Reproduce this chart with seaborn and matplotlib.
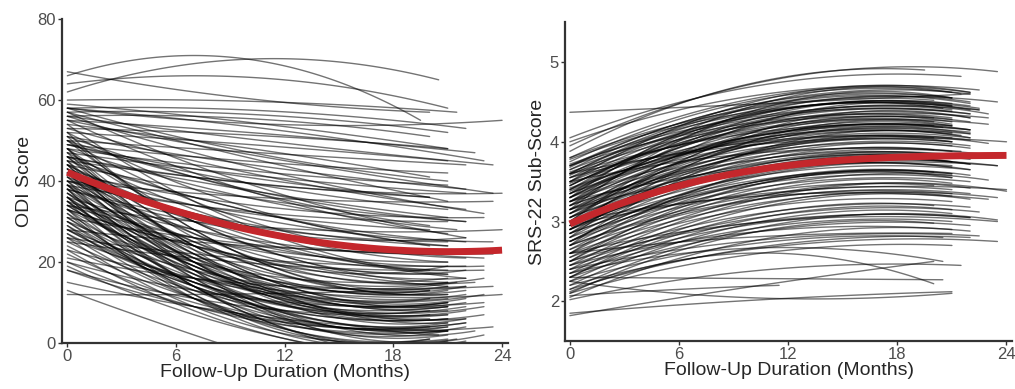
import matplotlib
matplotlib.use('Agg')
import matplotlib.pyplot as plt
import pandas as pd
import seaborn as sns

# ODI trajectories: score at month 0, at month 7, at last visit, last visit month
odi_start = [66, 62, 64, 67, 60, 58, 58, 57, 56, 59,
             55, 58, 53, 52, 56, 50, 54, 49, 51, 55,
             48, 47, 57, 45, 53, 49, 56, 46, 44, 51,
             48, 42, 55, 40, 46, 52, 43, 38, 50, 41,
             47, 36, 44, 39, 54, 35, 42, 48, 37, 33,
             38, 34, 45, 40, 30, 38, 51, 34, 43, 28,
             36, 46, 32, 41, 26, 39, 30, 44, 35, 28,
             48, 33, 25, 38, 42, 30, 36, 27, 40, 32,
             24, 45, 22, 35, 29, 20, 38, 26, 18, 33,
             41, 37, 44, 29, 39, 47, 31, 43, 35, 52,
             13, 15, 12, 21, 20, 18, 23, 25, 28, 34,
             40, 46, 27, 23, 19, 36, 44, 33, 42, 58,
             39, 26, 31, 49, 57, 40, 45, 50, 37, 42,
             34, 48, 31, 39, 46, 28, 36, 43, 33, 50]
odi_m7 = [71, 69, 66, 62, 60, 55, 58, 57, 56, 56,
          53, 55, 52, 50, 52, 48, 50, 46, 46, 49,
          44, 43, 49, 41, 45, 42, 47, 40, 38, 41,
          39, 36, 42, 34, 36, 38, 34, 31, 35, 31,
          33, 28, 30, 28, 35, 26, 27, 30, 24, 24,
          30, 26, 24, 22, 20, 21, 28, 19, 22, 18,
          19, 24, 17, 20, 16, 19, 15, 20, 17, 14,
          23, 15, 13, 16, 18, 13, 14, 11, 16, 12,
          11, 18, 10, 12, 11, 9, 14, 9, 9, 11,
          25, 19, 22, 15, 17, 24, 14, 20, 18, 28,
          2, 9, 12, 16, 13, 11, 16, 21, 25, 30,
          37, 41, 14, 8, 7, 14, 31, 24, 32, 50,
          34, 22, 26, 43, 44, 32, 36, 41, 20, 21,
          18, 26, 16, 23, 27, 15, 21, 25, 20, 30]
odi_end = [55, 65, 58, 57, 57, 55, 53, 52, 51, 48,
           47, 45, 48, 45, 44, 44, 41, 42, 38, 37,
           39, 37, 35, 36, 33, 33, 32, 31, 30, 29,
           28, 31, 27, 28, 25, 24, 25, 25, 21, 22,
           20, 22, 18, 19, 17, 18, 16, 15, 15, 17,
           26, 20, 13, 13, 16, 12, 12, 12, 10, 13,
           10, 9, 10, 8, 11, 7, 8, 6, 6, 7,
           5, 5, 6, 4, 3, 4, 3, 4, 2, 2,
           4, 1, 5, 1, 1, 3, 0.5, 1, 4, 0.5,
           19, 11, 9, 9, 5, 11, 3, 7, 9, 14,
           -8, 3, 14, 14, 10, 7, 12, 18, 22, 28,
           35, 37, 2, -3, -2, -3, 16, 14, 21, 40,
           30, 19, 22, 36, 26, 24, 24, 30, 8, 6,
           10, 14, 6, 15, 16, 9, 13, 12, 15, 18]
odi_last = [19.5, 20.5, 21, 20, 21.5, 24, 22, 21, 20, 21,
            22.5, 23, 21, 21, 23.5, 22, 20, 21, 22, 23.5,
            21, 22, 21, 20, 22, 21, 23, 21, 22, 20,
            21.5, 23, 21, 20, 22, 21, 23.5, 21, 22, 20,
            21, 22, 21, 23, 21, 20, 22, 21, 22.5, 21,
            22, 21, 21, 20, 21, 22, 21, 23, 21, 20,
            22, 21, 21, 22, 21, 21, 20, 22, 21, 23,
            21, 22, 21, 21, 22.5, 20, 21, 22, 21, 23,
            21, 21.5, 22, 20, 21, 21, 22, 20, 23.5, 21,
            21, 20, 21, 22, 21, 22, 21, 20, 23, 21,
            14, 21, 23.5, 22, 23, 21, 24, 23, 23.5, 24,
            23.5, 24, 20.5, 18, 16, 18, 22, 21, 23, 21,
            21, 22, 21, 20, 22, 21, 20, 22, 21, 22,
            21, 22, 20, 21, 23, 21, 22, 21, 21.5, 22]

# SRS-22 trajectories: same layout
srs_start = [4.37, 3.95, 4.05, 3.88, 4.00, 3.75, 3.70, 3.65, 3.80, 3.60, 3.55, 3.50, 3.72, 3.45, 3.40,
             3.62, 3.35, 3.30, 3.55, 3.25, 3.48, 3.20, 3.15, 3.42, 3.10, 3.35, 3.05, 3.30, 3.00, 3.25,
             2.95, 3.20, 2.90, 3.15, 2.85, 3.10, 2.80, 3.05, 2.75, 3.00, 2.70, 2.95, 2.65, 2.90, 2.60,
             2.85, 2.55, 2.80, 2.50, 2.75, 2.45, 2.70, 2.40, 2.65, 2.35, 2.60, 2.30, 2.55, 2.30, 2.50,
             2.25, 2.45, 2.20, 2.40, 2.15, 2.35, 2.10, 2.30, 2.60, 2.40, 2.05, 2.25, 2.20, 2.10, 1.82,
             1.85, 2.25, 2.07, 2.30, 2.12, 2.02, 2.15, 2.35, 3.60, 3.35, 3.50, 3.40, 3.25, 3.15, 3.65,
             3.45, 3.30, 3.10, 3.00, 2.90, 3.55, 3.70, 3.20, 2.75, 3.05, 2.85, 3.38, 3.78, 2.95, 3.15,
             3.60, 3.50, 2.70, 3.00, 2.50, 3.25, 3.80, 3.68, 3.58, 2.60, 2.45,
             3.40, 3.20, 3.00, 3.30, 2.90, 3.10, 3.50, 2.80, 3.25, 3.05, 3.45, 2.70,
             3.35, 2.95, 3.15, 3.60, 2.85, 3.70, 3.00, 3.30, 2.60, 2.75, 2.50, 2.90]
srs_m7 = [4.44, 4.55, 4.55, 4.55, 4.45, 4.35, 4.30, 4.27, 4.28, 4.22, 4.17, 4.15, 4.18, 4.10, 4.05,
          4.08, 4.00, 3.95, 4.01, 3.90, 3.94, 3.87, 3.81, 3.88, 3.77, 3.83, 3.71, 3.78, 3.67, 3.73,
          3.61, 3.68, 3.57, 3.63, 3.51, 3.58, 3.47, 3.53, 3.41, 3.48, 3.37, 3.43, 3.31, 3.38, 3.27,
          3.33, 3.21, 3.28, 3.17, 3.23, 3.11, 3.18, 3.07, 3.13, 3.01, 3.08, 2.97, 3.03, 2.91, 2.96,
          2.86, 2.91, 2.81, 2.84, 2.74, 2.79, 2.70, 2.74, 2.76, 2.68, 2.60, 2.62, 2.55, 2.48, 2.08,
          1.97, 2.08, 2.16, 2.29, 2.55, 2.30, 2.55, 2.62, 4.00, 3.88, 4.02, 3.90, 3.80, 3.72, 4.15,
          4.08, 3.90, 3.68, 3.55, 3.50, 3.90, 4.12, 3.65, 3.33, 3.58, 3.35, 3.92, 4.25, 3.25, 3.52,
          3.88, 3.78, 3.15, 3.25, 2.88, 3.58, 4.38, 4.30, 4.18, 2.90, 2.78,
          4.15, 4.05, 3.95, 4.20, 3.85, 3.90, 4.28, 3.75, 4.02, 3.80, 4.05, 3.62,
          4.12, 3.75, 4.12, 4.25, 3.65, 4.22, 3.85, 4.00, 3.40, 3.40, 3.25, 3.50]
srs_end = [4.60, 4.88, 4.82, 4.90, 4.65, 4.62, 4.60, 4.55, 4.50, 4.52, 4.45, 4.48, 4.40, 4.40, 4.35,
           4.30, 4.30, 4.25, 4.22, 4.20, 4.15, 4.18, 4.12, 4.10, 4.08, 4.05, 4.02, 4.00, 3.98, 3.95,
           3.92, 3.90, 3.88, 3.85, 3.82, 3.80, 3.78, 3.75, 3.72, 3.70, 3.68, 3.65, 3.62, 3.60, 3.58,
           3.55, 3.52, 3.50, 3.48, 3.45, 3.42, 3.40, 3.38, 3.35, 3.32, 3.30, 3.28, 3.25, 3.20, 3.18,
           3.15, 3.12, 3.10, 3.05, 3.02, 3.00, 2.98, 2.95, 2.85, 2.82, 2.90, 2.80, 2.75, 2.70, 2.50,
           2.12, 2.10, 2.20, 2.27, 2.22, 2.45, 2.80, 2.50, 4.20, 4.12, 4.25, 4.10, 4.05, 4.00, 4.35,
           4.38, 4.20, 3.95, 3.80, 3.78, 4.05, 4.30, 3.85, 3.60, 3.82, 3.58, 4.15, 4.45, 3.40, 3.70,
           4.00, 3.88, 3.35, 3.28, 3.05, 3.70, 4.62, 4.55, 4.42, 3.00, 2.88,
           4.50, 4.45, 4.40, 4.60, 4.30, 4.25, 4.62, 4.20, 4.35, 4.15, 4.28, 4.05,
           4.42, 4.10, 4.55, 4.48, 4.00, 4.40, 4.22, 4.30, 3.75, 3.65, 3.55, 3.72]
srs_last = [22, 23.5, 21.5, 19.5, 22.5, 21, 22, 21, 23.5, 20, 22, 21, 22.5, 21, 22,
            20, 21, 22, 23, 21, 22, 20.5, 21, 22, 21.5, 20, 22, 21, 23, 21,
            22, 20, 21, 22.5, 21, 22, 20, 21, 22, 23.5, 21, 22, 20, 21, 22,
            21, 23, 22, 21, 20, 22, 21, 24, 22, 21, 23.5, 22, 21, 20, 22,
            21, 22.5, 21, 22, 23.5, 21, 20, 22, 21, 22.5, 21, 20.5, 23.5, 21, 20,
            21, 21, 11.5, 20.5, 20, 21.5, 22, 20.5, 21, 22, 20, 21, 22, 21, 22,
            21, 20, 22, 21, 22, 21, 23, 20, 21, 22, 21, 22, 21, 24, 23.5,
            24, 21.5, 21, 23, 22, 21, 22, 21, 22.5, 23.5, 22,
            22, 21, 22, 21.5, 22, 21, 22, 21, 23, 22, 21, 22,
            20.5, 22, 21, 22, 21, 22.5, 21, 22, 21, 22, 21, 22]

# group mean curves
mean_months = [0, 3, 6, 9, 12, 15, 18, 21, 24]
odi_mean = [42, 37.3, 32.8, 28.8, 26.1, 24.2, 23.1, 22.8, 22.8]
srs_mean = [2.97, 3.24, 3.45, 3.60, 3.70, 3.77, 3.81, 3.82, 3.83]

sns.set_style('ticks')
plt.rcParams['font.family'] = ['Liberation Sans', 'DejaVu Sans']

fig = plt.figure(figsize=(10.15, 3.89), dpi=100)
ax1 = fig.add_axes([0.061, 0.118, 0.439, 0.833])
ax2 = fig.add_axes([0.557, 0.123, 0.440, 0.820])


def spaghetti(ax, start, m7, end, last):
    # one quadratic curve per patient
    for s, m, e, t in zip(start, m7, end, last):
        d = pd.DataFrame({'month': [0, 7, t], 'score': [s, m, e]})
        sns.regplot(data=d, x='month', y='score', order=2, ci=None, scatter=False,
                    truncate=True, ax=ax,
                    line_kws=dict(color='black', alpha=0.55, lw=1.0))


spaghetti(ax1, odi_start, odi_m7, odi_end, odi_last)
sns.regplot(x=mean_months, y=odi_mean, order=3, ci=None, scatter=False, ax=ax1,
            line_kws=dict(color='#C4272C', lw=5, solid_capstyle='butt'))

spaghetti(ax2, srs_start, srs_m7, srs_end, srs_last)
sns.regplot(x=mean_months, y=srs_mean, order=3, ci=None, scatter=False, ax=ax2,
            line_kws=dict(color='#C4272C', lw=5, solid_capstyle='butt'))

ax1.set_xlim(-0.3, 24.3)
ax1.set_ylim(0, 80)
ax1.set_yticks([0, 20, 40, 60, 80])
ax1.set_ylabel('ODI Score', fontsize=14, labelpad=3)

ax2.set_xlim(-0.25, 24.3)
ax2.set_ylim(1.5, 5.5)
ax2.set_yticks([2, 3, 4, 5])
ax2.set_ylabel('SRS-22 Sub-Score', fontsize=14, labelpad=3)

for ax in (ax1, ax2):
    ax.set_xticks([0, 6, 12, 18, 24])
    ax.set_xlabel('Follow-Up Duration (Months)', fontsize=14, labelpad=0)
    sns.despine(ax=ax)
    for sp in ('left', 'bottom'):
        ax.spines[sp].set_linewidth(1.6)
        ax.spines[sp].set_color('#333333')
    ax.tick_params(length=3, width=1, color='#333333', labelcolor='#4D4D4D',
                   labelsize=12, pad=1.5)

fig.savefig('out.png', dpi=100)
